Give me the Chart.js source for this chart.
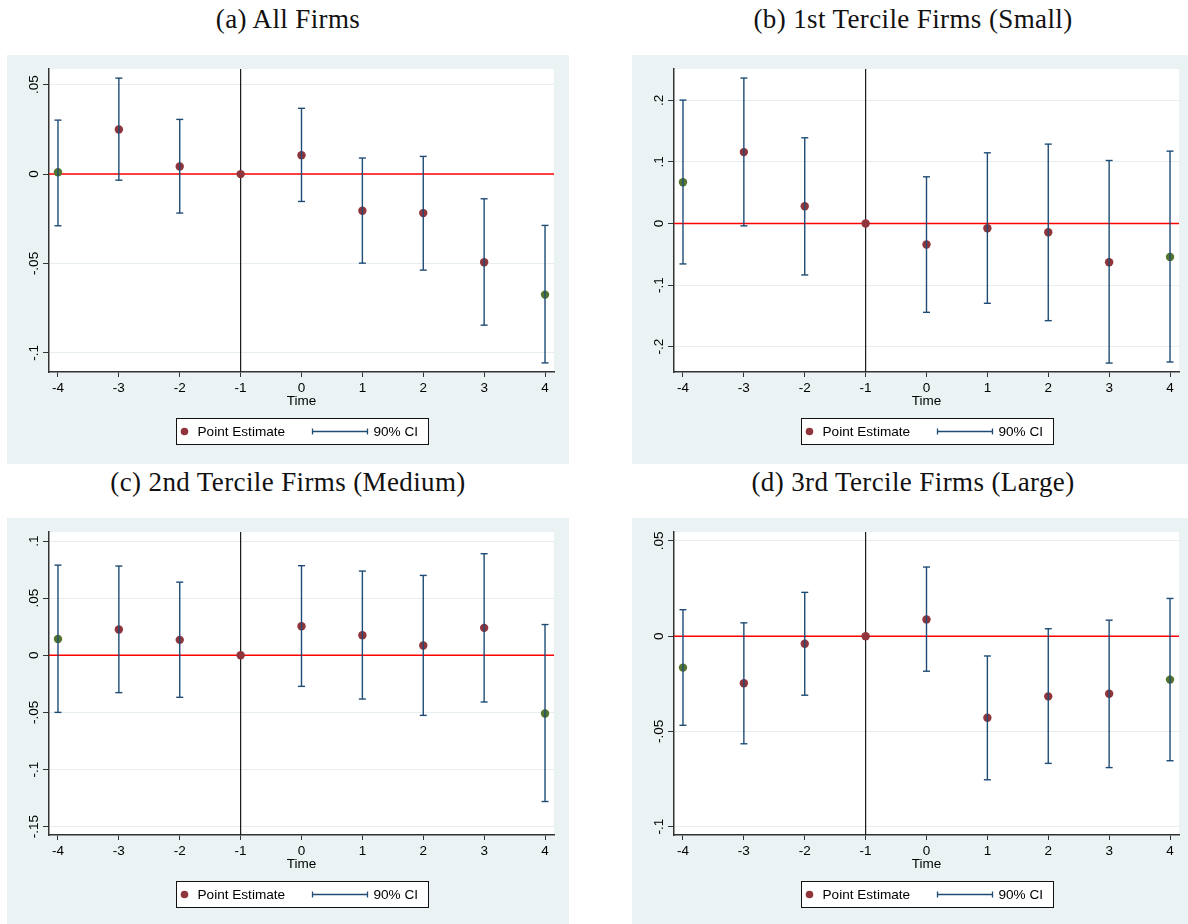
<!DOCTYPE html>
<html>
<head>
<meta charset="utf-8">
<script src="https://cdn.jsdelivr.net/npm/chart.js@4.4.1/dist/chart.umd.min.js"></script>
<style>
  html, body { margin: 0; padding: 0; background: #fff; }
  body { position: relative; width: 1188px; height: 924px; overflow: hidden; }
  .title {
    position: absolute; width: 562px; text-align: center; white-space: nowrap;
    font: 27px "Liberation Serif", "Times New Roman", serif; letter-spacing: 0.38px;
    line-height: 27px; color: #111;
  }
  .panel { position: absolute; width: 562px; height: 409px; background: #eaf2f3; }
  .panel canvas { display: block; }
</style>
</head>
<body>
<div class="title" style="left:7px;top:6px">(a) All Firms</div>
<div class="title" style="left:632px;top:6px">(b) 1st Tercile Firms (Small)</div>
<div class="title" style="left:7px;top:469px">(c) 2nd Tercile Firms (Medium)</div>
<div class="title" style="left:632px;top:469px">(d) 3rd Tercile Firms (Large)</div>

<div class="panel" style="left:7px;top:55px"><canvas id="panelA" width="562" height="409"></canvas></div>
<div class="panel" style="left:632px;top:55px"><canvas id="panelB" width="562" height="409"></canvas></div>
<div class="panel" style="left:7px;top:518px"><canvas id="panelC" width="562" height="409"></canvas></div>
<div class="panel" style="left:632px;top:518px"><canvas id="panelD" width="562" height="409"></canvas></div>

<script>
// event time relative to the reference period (-1)
const periods = [-4, -3, -2, -1, 0, 1, 2, 3, 4];
// end periods are binned and get their own marker colour
const markerKind = ['bin', 'est', 'est', 'est', 'est', 'est', 'est', 'est', 'bin'];

// (a) all firms
const allEst = [0.001, 0.025, 0.0043, 0, 0.0106, -0.0205, -0.0218, -0.0493, -0.0674];
const allLo = [-0.0289, -0.0034, -0.0218, null, -0.0153, -0.0498, -0.0537, -0.0845, -0.1056];
const allHi = [0.0302, 0.0537, 0.0306, null, 0.0368, 0.009, 0.0099, -0.0138, -0.0287];
const allTicks = [0.05, 0, -0.05, -0.1];
const allTickLabels = ['.05', '0', '-.05', '-.1'];

// (b) small firms
const smallEst = [0.067, 0.116, 0.028, 0, -0.034, -0.0076, -0.0141, -0.0629, -0.0542];
const smallLo = [-0.0656, -0.0038, -0.0835, null, -0.1442, -0.1295, -0.1577, -0.2266, -0.2249];
const smallHi = [0.2005, 0.2363, 0.1393, null, 0.0759, 0.1149, 0.129, 0.1024, 0.1176];
const smallTicks = [0.2, 0.1, 0, -0.1, -0.2];
const smallTickLabels = ['.2', '.1', '0', '-.1', '-.2'];

// (c) medium firms
const mediumEst = [0.0143, 0.0225, 0.0135, 0, 0.0254, 0.0175, 0.0085, 0.024, -0.0509];
const mediumLo = [-0.05, -0.0327, -0.0368, null, -0.0272, -0.0383, -0.0526, -0.0409, -0.128];
const mediumHi = [0.0789, 0.0781, 0.064, null, 0.0784, 0.0737, 0.0699, 0.0889, 0.0269];
const mediumTicks = [0.1, 0.05, 0, -0.05, -0.1, -0.15];
const mediumTickLabels = ['.1', '.05', '0', '-.05', '-.1', '-.15'];

// (d) large firms
const largeEst = [-0.0165, -0.0247, -0.004, 0, 0.0088, -0.0428, -0.0316, -0.0302, -0.0228];
const largeLo = [-0.0468, -0.0565, -0.031, null, -0.0184, -0.0754, -0.0668, -0.069, -0.0654];
const largeHi = [0.0139, 0.007, 0.023, null, 0.0363, -0.0104, 0.0039, 0.0084, 0.0198];
const largeTicks = [0.05, 0, -0.05, -0.1];
const largeTickLabels = ['.05', '0', '-.05', '-.1'];

const MARKER = { est: '#90353b', bin: '#55752f' };
const CI_COLOR = '#1f4c75';
const AXIS_COLOR = '#333';
const GRID_COLOR = '#e6eef0';
const SANS = '"Liberation Sans", Arial, sans-serif';
const ZERO_LINE = 0;
const EVENT_LINE = -1;

function ciSegments(lo, hi) {
  const pts = [];
  periods.forEach((t, i) => {
    if (lo[i] == null) return;
    pts.push({ x: t, y: lo[i] }, { x: t, y: hi[i] }, { x: t, y: null });
  });
  return pts;
}

function ciEnds(lo, hi) {
  const pts = [];
  periods.forEach((t, i) => {
    if (lo[i] == null) return;
    pts.push({ x: t, y: lo[i] }, { x: t, y: hi[i] });
  });
  return pts;
}

const plotBackground = {
  id: 'plotBackground',
  beforeDraw(chart) {
    const { ctx, chartArea: a } = chart;
    ctx.save();
    ctx.fillStyle = '#fff';
    ctx.fillRect(a.left, a.top, a.right - a.left, a.bottom - a.top);
    ctx.restore();
  },
};

const refLines = {
  id: 'refLines',
  beforeDatasetsDraw(chart) {
    const { ctx, chartArea: a, scales } = chart;
    const y0 = scales.y.getPixelForValue(ZERO_LINE);
    const x0 = scales.x.getPixelForValue(EVENT_LINE);
    ctx.save();
    ctx.strokeStyle = '#ff0000';
    ctx.lineWidth = 1.5;
    ctx.beginPath();
    ctx.moveTo(a.left, y0);
    ctx.lineTo(a.right, y0);
    ctx.stroke();
    ctx.strokeStyle = '#1a1a1a';
    ctx.lineWidth = 1.2;
    ctx.beginPath();
    ctx.moveTo(x0, a.top);
    ctx.lineTo(x0, a.bottom);
    ctx.stroke();
    ctx.restore();
  },
};

// y tick labels run bottom-to-top, centred on each tick
const rotatedYLabels = {
  id: 'rotatedYLabels',
  afterDraw(chart, args, opts) {
    const { ctx } = chart;
    const s = chart.scales.y;
    ctx.save();
    ctx.fillStyle = '#000';
    ctx.font = '13.5px ' + SANS;
    ctx.textAlign = 'center';
    ctx.textBaseline = 'middle';
    s.ticks.forEach((tk, i) => {
      const y = s.getPixelForValue(tk.value);
      ctx.save();
      ctx.translate(s.right - 15, y);
      ctx.rotate(-Math.PI / 2);
      ctx.fillText(opts.labels[i], 0, 0);
      ctx.restore();
    });
    ctx.restore();
  },
};

const legendBox = {
  id: 'legendBox',
  afterDraw(chart) {
    const { ctx, chartArea: a } = chart;
    const w = 252, h = 26;
    const left = Math.round((a.left + a.right) / 2 - w / 2) + 0.5;
    const top = Math.round(a.bottom + 46) + 0.5;
    const mid = top + h / 2;
    ctx.save();
    ctx.fillStyle = '#fff';
    ctx.fillRect(left, top, w, h);
    ctx.strokeStyle = '#111';
    ctx.lineWidth = 1;
    ctx.strokeRect(left, top, w, h);

    ctx.fillStyle = MARKER.est;
    ctx.beginPath();
    ctx.arc(left + 8, mid, 3.8, 0, Math.PI * 2);
    ctx.fill();

    ctx.fillStyle = '#000';
    ctx.font = '13.6px ' + SANS;
    ctx.textBaseline = 'middle';
    ctx.textAlign = 'left';
    ctx.fillText('Point Estimate', left + 21, mid + 0.5);

    ctx.strokeStyle = CI_COLOR;
    ctx.lineWidth = 1.3;
    ctx.beginPath();
    ctx.moveTo(left + 136, mid);
    ctx.lineTo(left + 191, mid);
    ctx.moveTo(left + 136, mid - 3);
    ctx.lineTo(left + 136, mid + 3);
    ctx.moveTo(left + 191, mid - 3);
    ctx.lineTo(left + 191, mid + 3);
    ctx.stroke();

    ctx.fillStyle = '#000';
    ctx.fillText('90% CI', left + 197, mid + 0.5);
    ctx.restore();
  },
};

function drawPanel(id, est, lo, hi, ticks, tickLabels, yMin, yMax) {
  new Chart(document.getElementById(id), {
    type: 'scatter',
    data: {
      datasets: [
        {
          data: ciSegments(lo, hi),
          showLine: true,
          spanGaps: false,
          borderColor: CI_COLOR,
          borderWidth: 1.4,
          pointRadius: 0,
        },
        {
          data: ciEnds(lo, hi),
          pointStyle: 'line',
          pointRadius: 3.5,
          pointBorderColor: CI_COLOR,
          pointBorderWidth: 1.4,
        },
        {
          data: periods.map((t, i) => ({ x: t, y: est[i] })),
          pointStyle: 'circle',
          pointRadius: 4.2,
          pointBorderWidth: 0,
          pointBackgroundColor: markerKind.map((k) => MARKER[k]),
        },
      ],
    },
    plugins: [plotBackground, refLines, rotatedYLabels, legendBox],
    options: {
      responsive: false,
      animation: false,
      events: [],
      layout: { padding: { top: 14, right: 15, bottom: 55, left: 0 } },
      plugins: {
        legend: { display: false },
        tooltip: { enabled: false },
        rotatedYLabels: { labels: tickLabels },
      },
      scales: {
        x: {
          type: 'linear',
          min: -4.1475,
          max: 4.1475,
          afterBuildTicks: (s) => { s.ticks = periods.map((v) => ({ value: v })); },
          afterFit: (s) => { s.height = 37; },
          border: { color: AXIS_COLOR, width: 1.5 },
          grid: { drawOnChartArea: false, tickLength: 5, tickColor: AXIS_COLOR, tickWidth: 1 },
          ticks: {
            color: '#000',
            padding: 3,
            font: { family: SANS, size: 13.5 },
            callback: (v) => String(v),
          },
          title: {
            display: true,
            text: 'Time',
            color: '#000',
            padding: 0,
            font: { family: SANS, size: 13.5 },
          },
        },
        y: {
          min: yMin,
          max: yMax,
          afterBuildTicks: (s) => { s.ticks = ticks.map((v) => ({ value: v })); },
          afterFit: (s) => { s.width = 42; },
          border: { color: AXIS_COLOR, width: 1.5 },
          grid: { color: GRID_COLOR, lineWidth: 1, tickLength: 6, tickColor: AXIS_COLOR, tickWidth: 1 },
          ticks: { display: false },
        },
      },
    },
  });
}

drawPanel('panelA', allEst, allLo, allHi, allTicks, allTickLabels, -0.1107, 0.0588);
drawPanel('panelB', smallEst, smallLo, smallHi, smallTicks, smallTickLabels, -0.2411, 0.251);
drawPanel('panelC', mediumEst, mediumLo, mediumHi, mediumTicks, mediumTickLabels, -0.1573, 0.1079);
drawPanel('panelD', largeEst, largeLo, largeHi, largeTicks, largeTickLabels, -0.1044, 0.0547);
</script>
</body>
</html>
